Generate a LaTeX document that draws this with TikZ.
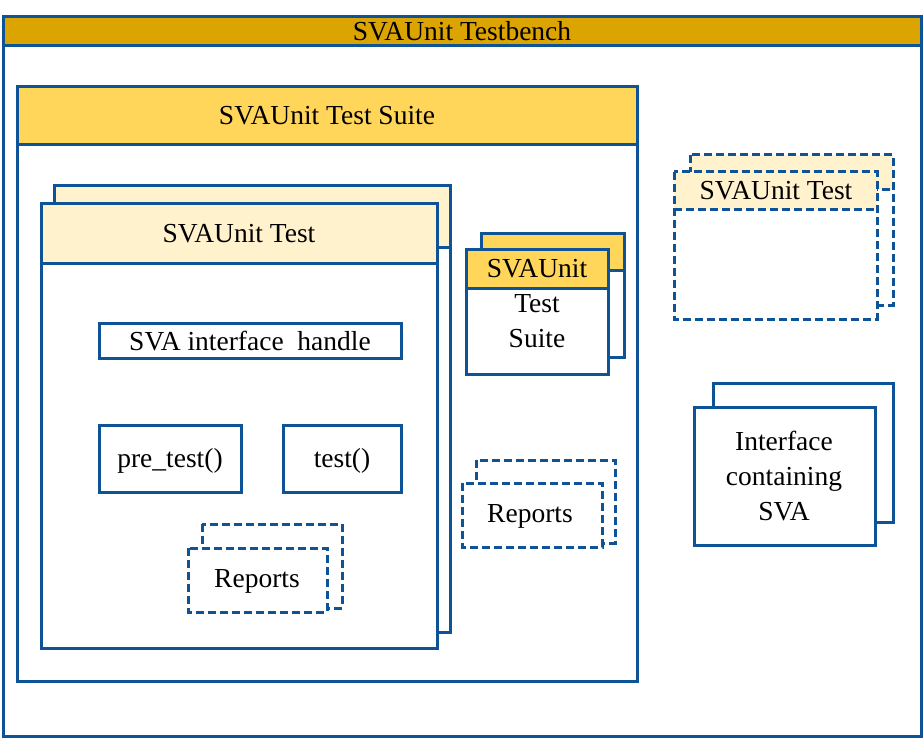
\documentclass[tikz,border=0pt]{standalone}
\usepackage{fontspec}
\setmainfont{Liberation Serif}
\definecolor{bblue}{HTML}{0E5395}
\definecolor{dgold}{HTML}{DCA400}
\definecolor{lgold}{HTML}{FFD55A}
\definecolor{pale}{HTML}{FFF2CC}
\tikzset{
  bx/.style={draw=bblue, line width=3pt},
  dbx/.style={draw=bblue, line width=3pt, dash pattern=on 8pt off 4pt},
  lbl/.style={inner sep=0pt, font=\fontsize{27.5}{35}\selectfont, align=center, text=black}
}
\begin{document}
\begin{tikzpicture}[x=1pt,y=-1pt]
\useasboundingbox (0,0) rectangle (924,738);
% Testbench
\fill[white] (3,17) rectangle (921,736);
\fill[dgold] (3,17) rectangle (921,46);
\draw[bx] (3,46) -- (921,46);
\draw[bx] (3,17) rectangle (921,736);
\node[lbl] (tb) at (462,31) {SVAUnit Testbench};
% Test suite
\fill[white] (17,87) rectangle (637,681);
\fill[lgold] (17,87) rectangle (637,145);
\draw[bx] (17,145) -- (637,145);
\draw[bx] (17,87) rectangle (637,681);
\node[lbl] (ts) at (327,116) {SVAUnit Test Suite};
% SVAUnit Test stack (back)
\fill[white] (54,186) rectangle (450,632);
\fill[pale] (54,186) rectangle (450,248);
\draw[bx] (54,248) -- (450,248);
\draw[bx] (54,186) rectangle (450,632);
% front
\fill[white] (41,204) rectangle (437,648);
\fill[pale] (41,204) rectangle (437,264);
\draw[bx] (41,264) -- (437,264);
\draw[bx] (41,204) rectangle (437,648);
\node[lbl] (t) at (239,234) {SVAUnit Test};
% inner boxes
\draw[bx, fill=white] (99,323) rectangle (401,358);
\node[lbl] (sih) at (250,341) {SVA interface\ \ handle};
\draw[bx, fill=white] (99,425) rectangle (241,492);
\node[lbl] (pre) at (170,461) {pre\_test()};
\draw[bx, fill=white] (283,425) rectangle (401,492);
\node[lbl] (tst) at (342,461) {test()};
% inner reports
\draw[dbx, fill=white] (202,524) rectangle (342,608);
\draw[dbx, fill=white] (188,548) rectangle (327,612);
\node[lbl] (rep1) at (257,581) {Reports};
% small suite stack
\fill[white] (481,234) rectangle (624,357);
\fill[lgold] (481,234) rectangle (624,271);
\draw[bx] (481,271) -- (624,271);
\draw[bx] (481,234) rectangle (624,357);
\fill[white] (466,250) rectangle (608,374);
\fill[lgold] (466,250) rectangle (608,288);
\draw[bx] (466,288) -- (608,288);
\draw[bx] (466,250) rectangle (608,374);
\node[lbl] (ss1) at (537,269) {SVAUnit};
\node[lbl] (ss2) at (537,321) {Test\\Suite};
% suite reports
\draw[dbx, fill=white] (476,460) rectangle (615,543);
\draw[dbx, fill=white] (462,483) rectangle (602,547);
\node[lbl] (rep2) at (530,516) {Reports};
% dashed SVAUnit Test on right
\fill[white] (690,155) rectangle (893,305);
\fill[pale] (690,155) rectangle (893,190);
\draw[dbx] (690,190) -- (893,190);
\draw[dbx] (690,155) rectangle (893,305);
\fill[white] (674,172) rectangle (877,319);
\fill[pale] (674,172) rectangle (877,210);
\draw[dbx] (674,210) -- (877,210);
\draw[dbx] (674,172) rectangle (877,319);
\node[lbl] (rt) at (776,191) {SVAUnit Test};
% interface
\draw[bx, fill=white] (713,383) rectangle (893,522);
\draw[bx, fill=white] (694,407) rectangle (875,545);
\node[lbl] (ifc) at (784,476) {Interface\\containing\\SVA};
\end{tikzpicture}
\end{document}
